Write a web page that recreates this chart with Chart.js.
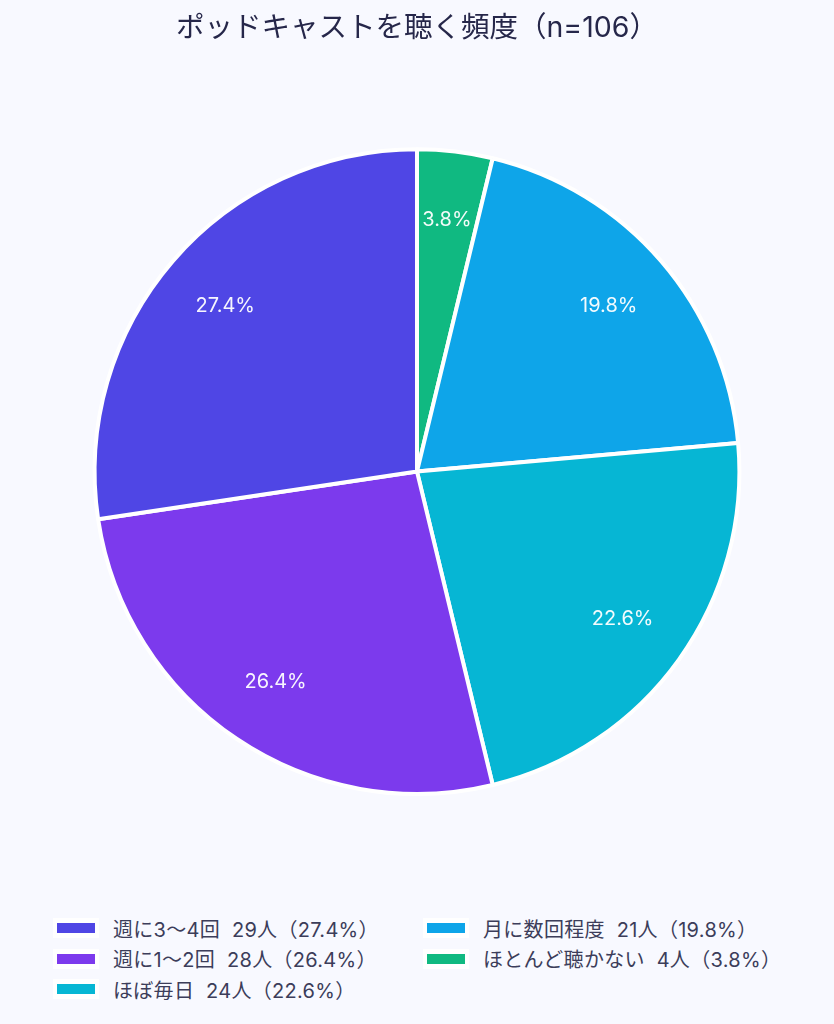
<!DOCTYPE html>
<html lang="ja">
<head>
<meta charset="utf-8">
<script src="https://cdn.jsdelivr.net/npm/chart.js@4.4.1/dist/chart.umd.min.js"></script>
<style>
  body { margin: 0; background: #f8f9ff; font-family: Inter, "Noto Sans CJK JP", sans-serif; }
  #wrap { position: relative; width: 834px; height: 1024px; }
  #box { position: absolute; left: 0; top: 0; width: 834px; height: 800px; }
  #legend {
    position: absolute; left: 53px; top: 913px;
    display: grid; grid-template-columns: 370px 370px; grid-template-rows: repeat(3, 30.5px);
    grid-auto-flow: column;
  }
  .item { display: flex; align-items: center; white-space: pre; font-size: 20px; letter-spacing: 0.3px; color: #3c3d5a; }
  .swatch { box-sizing: border-box; width: 46px; height: 20px; background: #fff; padding: 5px 4px; margin-right: 14px; }
  .swatch span { display: block; width: 100%; height: 100%; }
</style>
</head>
<body>
<div id="wrap">
  <div id="box"><canvas id="myChart"></canvas></div>
  <div id="legend"></div>
</div>
<script>
const labels = ['週に3〜4回', '週に1〜2回', 'ほぼ毎日', '月に数回程度', 'ほとんど聴かない'];
const counts = [29, 28, 24, 21, 4];
const colors = ['#4f46e5', '#7c3aed', '#06b6d4', '#0ea5e9', '#10b981'];
const total = 106;

const pct = v => (v / total * 100).toFixed(1);

// reference goes counter-clockwise from the top, Chart.js goes clockwise, so flip it
const revLabels = labels.slice().reverse();
const revCounts = counts.slice().reverse();
const revColors = colors.slice().reverse();

const sliceLabels = {
    id: 'sliceLabels',
    afterDatasetsDraw(chart) {
        const ctx = chart.ctx;
        const meta = chart.getDatasetMeta(0);
        ctx.save();
        ctx.font = '20px Inter, "Noto Sans CJK JP", sans-serif';
        ctx.fillStyle = 'rgba(255,255,255,0.95)';
        ctx.textAlign = 'center';
        ctx.textBaseline = 'middle';
        meta.data.forEach((arc, i) => {
            const p = arc.getProps(['x', 'y', 'startAngle', 'endAngle', 'outerRadius'], true);
            const mid = (p.startAngle + p.endAngle) / 2;
            const r = p.outerRadius * 0.785;
            ctx.fillText(pct(revCounts[i]) + '%', p.x + Math.cos(mid) * r, p.y + Math.sin(mid) * r);
        });
        ctx.restore();
    }
};

const ctx = document.getElementById('myChart');
const myChart = new Chart(ctx, {
    type: 'pie',
    data: {
        labels: revLabels,
        datasets: [{
            data: revCounts,
            backgroundColor: revColors,
            borderColor: '#ffffff',
            borderWidth: 4
        }]
    },
    options: {
        responsive: true,
        maintainAspectRatio: false,
        animation: false,
        layout: { padding: { bottom: 4 } },
        plugins: {
            title: {
                display: true,
                text: 'ポッドキャストを聴く頻度（n=106）',
                color: '#26274a',
                font: { size: 28.5, weight: 'normal', family: 'Inter, "Noto Sans CJK JP", sans-serif' },
                padding: { top: 11, bottom: 102 }
            },
            legend: { display: false },
            tooltip: { enabled: false }
        }
    },
    plugins: [sliceLabels]
});

// legend in two columns, filled top to bottom
const legend = document.getElementById('legend');
labels.forEach((name, i) => {
    const el = document.createElement('div');
    el.className = 'item';
    el.innerHTML = '<div class="swatch"><span style="background:' + colors[i] + '"></span></div>' +
        name + '  ' + counts[i] + '人（' + pct(counts[i]) + '%）';
    legend.appendChild(el);
});
</script>
</body>
</html>
